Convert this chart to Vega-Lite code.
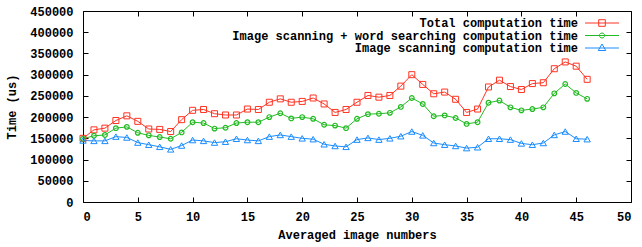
{
  "$schema": "https://vega.github.io/schema/vega-lite/v6.json",
  "autosize": "none",
  "width": 548,
  "height": 191,
  "padding": {"left": 83, "top": 11, "right": 11, "bottom": 45},
  "background": "white",
  "config": {
    "font": "Liberation Mono",
    "view": {"stroke": "black", "strokeWidth": 1},
    "axis": {
      "labelFont": "Liberation Mono", "labelFontSize": 12, "labelFontWeight": "bold", "labelColor": "black",
      "titleFont": "Liberation Mono", "titleFontSize": 12, "titleFontWeight": "bold", "titleColor": "black",
      "domain": false, "grid": false, "tickColor": "black", "tickWidth": 1, "tickSize": -5
    }
  },
  "data": {"values": [
    {"x":0,"s":"Total computation time","t":150000},{"x":1,"s":"Total computation time","t":170000},{"x":2,"s":"Total computation time","t":174000},{"x":3,"s":"Total computation time","t":192000},{"x":4,"s":"Total computation time","t":203000},{"x":5,"s":"Total computation time","t":190000},{"x":6,"s":"Total computation time","t":172000},{"x":7,"s":"Total computation time","t":171000},{"x":8,"s":"Total computation time","t":166000},{"x":9,"s":"Total computation time","t":194000},{"x":10,"s":"Total computation time","t":216000},{"x":11,"s":"Total computation time","t":218000},{"x":12,"s":"Total computation time","t":208000},{"x":13,"s":"Total computation time","t":205000},{"x":14,"s":"Total computation time","t":205000},{"x":15,"s":"Total computation time","t":219000},{"x":16,"s":"Total computation time","t":218000},{"x":17,"s":"Total computation time","t":235000},{"x":18,"s":"Total computation time","t":243000},{"x":19,"s":"Total computation time","t":235000},{"x":20,"s":"Total computation time","t":237000},{"x":21,"s":"Total computation time","t":245000},{"x":22,"s":"Total computation time","t":231000},{"x":23,"s":"Total computation time","t":211000},{"x":24,"s":"Total computation time","t":218000},{"x":25,"s":"Total computation time","t":235000},{"x":26,"s":"Total computation time","t":251000},{"x":27,"s":"Total computation time","t":247000},{"x":28,"s":"Total computation time","t":251000},{"x":29,"s":"Total computation time","t":273000},{"x":30,"s":"Total computation time","t":300000},{"x":31,"s":"Total computation time","t":277000},{"x":32,"s":"Total computation time","t":255000},{"x":33,"s":"Total computation time","t":259000},{"x":34,"s":"Total computation time","t":242000},{"x":35,"s":"Total computation time","t":211000},{"x":36,"s":"Total computation time","t":219000},{"x":37,"s":"Total computation time","t":271000},{"x":38,"s":"Total computation time","t":287000},{"x":39,"s":"Total computation time","t":272000},{"x":40,"s":"Total computation time","t":265000},{"x":41,"s":"Total computation time","t":279000},{"x":42,"s":"Total computation time","t":281000},{"x":43,"s":"Total computation time","t":314000},{"x":44,"s":"Total computation time","t":330000},{"x":45,"s":"Total computation time","t":320000},{"x":46,"s":"Total computation time","t":289000},
    {"x":0,"s":"Image scanning + word searching computation time","t":149000},{"x":1,"s":"Image scanning + word searching computation time","t":156000},{"x":2,"s":"Image scanning + word searching computation time","t":158000},{"x":3,"s":"Image scanning + word searching computation time","t":174000},{"x":4,"s":"Image scanning + word searching computation time","t":177000},{"x":5,"s":"Image scanning + word searching computation time","t":163000},{"x":6,"s":"Image scanning + word searching computation time","t":157000},{"x":7,"s":"Image scanning + word searching computation time","t":153000},{"x":8,"s":"Image scanning + word searching computation time","t":149000},{"x":9,"s":"Image scanning + word searching computation time","t":164000},{"x":10,"s":"Image scanning + word searching computation time","t":188000},{"x":11,"s":"Image scanning + word searching computation time","t":186000},{"x":12,"s":"Image scanning + word searching computation time","t":173000},{"x":13,"s":"Image scanning + word searching computation time","t":175000},{"x":14,"s":"Image scanning + word searching computation time","t":186000},{"x":15,"s":"Image scanning + word searching computation time","t":188000},{"x":16,"s":"Image scanning + word searching computation time","t":188000},{"x":17,"s":"Image scanning + word searching computation time","t":200000},{"x":18,"s":"Image scanning + word searching computation time","t":209000},{"x":19,"s":"Image scanning + word searching computation time","t":197000},{"x":20,"s":"Image scanning + word searching computation time","t":200000},{"x":21,"s":"Image scanning + word searching computation time","t":196000},{"x":22,"s":"Image scanning + word searching computation time","t":182000},{"x":23,"s":"Image scanning + word searching computation time","t":180000},{"x":24,"s":"Image scanning + word searching computation time","t":174000},{"x":25,"s":"Image scanning + word searching computation time","t":196000},{"x":26,"s":"Image scanning + word searching computation time","t":207000},{"x":27,"s":"Image scanning + word searching computation time","t":208000},{"x":28,"s":"Image scanning + word searching computation time","t":210000},{"x":29,"s":"Image scanning + word searching computation time","t":224000},{"x":30,"s":"Image scanning + word searching computation time","t":245000},{"x":31,"s":"Image scanning + word searching computation time","t":231000},{"x":32,"s":"Image scanning + word searching computation time","t":202000},{"x":33,"s":"Image scanning + word searching computation time","t":204000},{"x":34,"s":"Image scanning + word searching computation time","t":198000},{"x":35,"s":"Image scanning + word searching computation time","t":184000},{"x":36,"s":"Image scanning + word searching computation time","t":188000},{"x":37,"s":"Image scanning + word searching computation time","t":234000},{"x":38,"s":"Image scanning + word searching computation time","t":239000},{"x":39,"s":"Image scanning + word searching computation time","t":223000},{"x":40,"s":"Image scanning + word searching computation time","t":216000},{"x":41,"s":"Image scanning + word searching computation time","t":219000},{"x":42,"s":"Image scanning + word searching computation time","t":223000},{"x":43,"s":"Image scanning + word searching computation time","t":256000},{"x":44,"s":"Image scanning + word searching computation time","t":278000},{"x":45,"s":"Image scanning + word searching computation time","t":257000},{"x":46,"s":"Image scanning + word searching computation time","t":243000},
    {"x":0,"s":"Image scanning computation time","t":145000},{"x":1,"s":"Image scanning computation time","t":144000},{"x":2,"s":"Image scanning computation time","t":144000},{"x":3,"s":"Image scanning computation time","t":154000},{"x":4,"s":"Image scanning computation time","t":152000},{"x":5,"s":"Image scanning computation time","t":140000},{"x":6,"s":"Image scanning computation time","t":135000},{"x":7,"s":"Image scanning computation time","t":130000},{"x":8,"s":"Image scanning computation time","t":124000},{"x":9,"s":"Image scanning computation time","t":133000},{"x":10,"s":"Image scanning computation time","t":146000},{"x":11,"s":"Image scanning computation time","t":144000},{"x":12,"s":"Image scanning computation time","t":140000},{"x":13,"s":"Image scanning computation time","t":142000},{"x":14,"s":"Image scanning computation time","t":149000},{"x":15,"s":"Image scanning computation time","t":146000},{"x":16,"s":"Image scanning computation time","t":144000},{"x":17,"s":"Image scanning computation time","t":154000},{"x":18,"s":"Image scanning computation time","t":158000},{"x":19,"s":"Image scanning computation time","t":154000},{"x":20,"s":"Image scanning computation time","t":150000},{"x":21,"s":"Image scanning computation time","t":148000},{"x":22,"s":"Image scanning computation time","t":136000},{"x":23,"s":"Image scanning computation time","t":132000},{"x":24,"s":"Image scanning computation time","t":130000},{"x":25,"s":"Image scanning computation time","t":147000},{"x":26,"s":"Image scanning computation time","t":151000},{"x":27,"s":"Image scanning computation time","t":147000},{"x":28,"s":"Image scanning computation time","t":150000},{"x":29,"s":"Image scanning computation time","t":155000},{"x":30,"s":"Image scanning computation time","t":166000},{"x":31,"s":"Image scanning computation time","t":157000},{"x":32,"s":"Image scanning computation time","t":139000},{"x":33,"s":"Image scanning computation time","t":135000},{"x":34,"s":"Image scanning computation time","t":132000},{"x":35,"s":"Image scanning computation time","t":127000},{"x":36,"s":"Image scanning computation time","t":129000},{"x":37,"s":"Image scanning computation time","t":149000},{"x":38,"s":"Image scanning computation time","t":149000},{"x":39,"s":"Image scanning computation time","t":147000},{"x":40,"s":"Image scanning computation time","t":138000},{"x":41,"s":"Image scanning computation time","t":135000},{"x":42,"s":"Image scanning computation time","t":139000},{"x":43,"s":"Image scanning computation time","t":158000},{"x":44,"s":"Image scanning computation time","t":166000},{"x":45,"s":"Image scanning computation time","t":149000},{"x":46,"s":"Image scanning computation time","t":148000}
  ]},
  "layer": [
    {
      "mark": {"type": "line", "strokeWidth": 1},
      "encoding": {
        "x": {"field": "x", "type": "quantitative", "scale": {"domain": [0, 50], "nice": false},
              "axis": {"title": "Averaged image numbers", "values": [0,5,10,15,20,25,30,35,40,45,50], "format": "d", "labelPadding": 14, "titlePadding": 7}},
        "y": {"field": "t", "type": "quantitative", "scale": {"domain": [0, 450000], "nice": false},
              "axis": {"title": "Time (us)", "values": [0,50000,100000,150000,200000,250000,300000,350000,400000,450000], "format": "d", "labelPadding": 15, "titlePadding": 11}},
        "color": {"field": "s", "type": "nominal",
          "scale": {"domain": ["Total computation time", "Image scanning + word searching computation time", "Image scanning computation time"], "range": ["#ff3322", "#22bb22", "#1a8cff"]}}
      }
    },
    {
      "transform": [{"filter": "datum.s == 'Total computation time'"}],
      "mark": {"type": "point", "shape": "square", "size": 36, "filled": false, "strokeWidth": 1, "opacity": 1},
      "encoding": {
        "x": {"field": "x", "type": "quantitative", "axis": null},
        "y": {"field": "t", "type": "quantitative", "axis": null},
        "color": {"field": "s", "type": "nominal"}
      }
    },
    {
      "transform": [{"filter": "datum.s == 'Image scanning + word searching computation time'"}],
      "mark": {"type": "point", "shape": "circle", "size": 22, "filled": false, "strokeWidth": 1.2, "opacity": 1},
      "encoding": {
        "x": {"field": "x", "type": "quantitative", "axis": null},
        "y": {"field": "t", "type": "quantitative", "axis": null},
        "color": {"field": "s", "type": "nominal"}
      }
    },
    {
      "transform": [{"filter": "datum.s == 'Image scanning computation time'"}],
      "mark": {"type": "point", "shape": "triangle-up", "size": 40, "filled": false, "strokeWidth": 1, "opacity": 1},
      "encoding": {
        "x": {"field": "x", "type": "quantitative", "axis": null},
        "y": {"field": "t", "type": "quantitative", "axis": null},
        "color": {"field": "s", "type": "nominal"}
      }
    },
    {
      "mark": {"type": "point", "filled": false, "opacity": 0},
      "encoding": {
        "x": {"field": "x", "type": "quantitative", "axis": {"orient": "top", "title": null, "labels": false, "values": [0,5,10,15,20,25,30,35,40,45,50]}},
        "y": {"field": "t", "type": "quantitative", "axis": {"orient": "right", "title": null, "labels": false, "values": [0,50000,100000,150000,200000,250000,300000,350000,400000,450000]}},
        "color": {"field": "s", "type": "nominal",
          "legend": {
            "orient": "none", "legendX": 513, "legendY": 6, "title": null,
            "labelAlign": "right", "labelOffset": -30, "labelLimit": 0,
            "labelFont": "Liberation Mono", "labelFontSize": 12, "labelFontWeight": "bold", "labelColor": "black",
            "symbolSize": 100, "symbolStrokeWidth": 1, "symbolOpacity": 1, "symbolFillColor": "transparent", "rowPadding": 0.5
          }},
        "shape": {"field": "s", "type": "nominal",
          "scale": {"domain": ["Total computation time", "Image scanning + word searching computation time", "Image scanning computation time"],
                    "range": ["M-3.4,0H3.4M-0.66,-0.66H0.66V0.66H-0.66Z", "M-3.4,0H3.4M-0.2,-0.48H0.2L0.48,-0.2V0.2L0.2,0.48H-0.2L-0.48,0.2V-0.2Z", "M-3.4,0H3.4M0,-0.8L0.75,0.5H-0.75Z"]},
          "legend": {
            "orient": "none", "legendX": 513, "legendY": 6, "title": null,
            "labelAlign": "right", "labelOffset": -30, "labelLimit": 0,
            "labelFont": "Liberation Mono", "labelFontSize": 12, "labelFontWeight": "bold", "labelColor": "black",
            "symbolSize": 100, "symbolStrokeWidth": 1, "symbolOpacity": 1, "symbolFillColor": "transparent", "rowPadding": 0.5
          }}
      }
    }
  ],
  "resolve": {"axis": {"x": "independent", "y": "independent"}}
}
